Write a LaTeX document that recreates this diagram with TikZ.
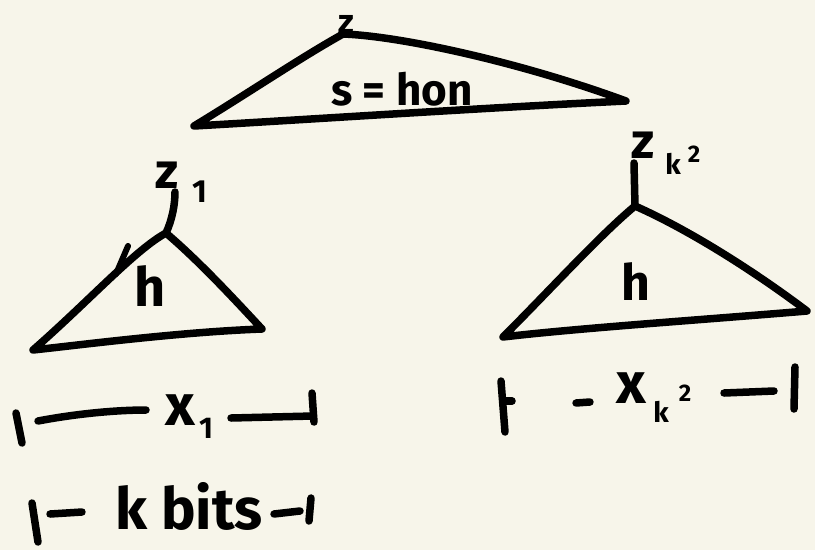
\documentclass[tikz,border=0pt]{standalone}
\usepackage{fontspec}
\setmainfont{Fira Sans}
\definecolor{paper}{HTML}{F7F5EA}
\newcommand{\fs}[1]{\fontsize{#1}{#1}\selectfont}
\begin{document}
\begin{tikzpicture}[x=1pt,y=-1pt,line cap=round,line join=round,
  pen/.style={line width=7.5pt,black},
  thinpen/.style={line width=6pt,black},
  lbl/.style={font=\fs{44}\bfseries,inner sep=0pt,anchor=center}]
\fill[paper] (0,0) rectangle (815,550);
\useasboundingbox (0,0) rectangle (815,550);

% ---- top triangle
\coordinate (tA) at (343,34);
\coordinate (tL) at (194,126);
\coordinate (tR) at (626,101);
\draw[pen] (tA) .. controls (400,36) and (520,62) .. (tR)
  .. controls (480,108) and (300,120) .. (tL)
  .. controls (250,92) and (300,58) .. (tA);
\node[lbl,font=\fs{34}\bfseries] (tz) at (346,24) {z};
\node[lbl] (ts) at (402,89) {s = hon};

% ---- left triangle
\coordinate (lA) at (166,233);
\coordinate (lL) at (33,350);
\coordinate (lR) at (262,329);
\coordinate (lS) at (175,192);
\draw[pen] (lA) .. controls (200,262) and (235,300) .. (lR)
  .. controls (180,332) and (80,345) .. (lL)
  .. controls (90,300) and (135,250) .. (lA);
\draw[pen] (lA) .. controls (172,220) and (175,205) .. (lS);
\coordinate (lm1) at (128,246);
\coordinate (lm2) at (116,274);
\draw[thinpen] (lm1) -- (lm2);
\node[lbl,font=\fs{50}\bfseries] (lz) at (167,175) {z};
\node[lbl,font=\fs{32}\bfseries] (l1) at (200,192) {1};
\node[lbl,font=\fs{54}\bfseries] (lh) at (150,286) {h};

% ---- right triangle
\coordinate (rA) at (635,206);
\coordinate (rL) at (503,337);
\coordinate (rR) at (807,311);
\coordinate (rS) at (634,163);
\draw[pen] (rA) .. controls (685,228) and (750,268) .. (rR)
  .. controls (700,320) and (580,328) .. (rL)
  .. controls (550,290) and (600,235) .. (rA);
\draw[pen] (rA) -- (rS);
\node[lbl,font=\fs{50}\bfseries] (rz) at (643,145) {z};
\node[lbl,font=\fs{28}\bfseries] (rk) at (673,164) {k};
\node[lbl,font=\fs{24}\bfseries] (r2) at (694,154) {2};
\node[lbl,font=\fs{50}\bfseries] (rh) at (636,282) {h};

% ---- bottom-left brace x1
\coordinate (a1) at (16,413);
\coordinate (a2) at (22,443);
\draw[pen] (a1) -- (a2);
\node[lbl,font=\fs{58}\bfseries] (x1) at (180,410) {x};
\node[lbl,font=\fs{30}\bfseries] (x1s) at (206,428) {1};
\coordinate (a3) at (38,421);
\coordinate (a4) at (146,410);
\draw[pen] (a3) .. controls (80,413) and (120,410) .. (a4);
\coordinate (a5) at (231,418);
\coordinate (a6) at (313,416);
\draw[pen] (a5) -- (a6);
\coordinate (a7) at (312,393);
\coordinate (a8) at (314,422);
\draw[pen] (a7) -- (a8);

% ---- bottom-left brace k bits
\coordinate (b1) at (32,503);
\coordinate (b2) at (38,542);
\draw[pen] (b1) -- (b2);
\coordinate (b3) at (50,514);
\coordinate (b4) at (82,512);
\draw[pen] (b3) -- (b4);
\node[lbl,font=\fs{58}\bfseries] (kb) at (189,506) {k bits};
\coordinate (b5) at (274,514);
\coordinate (b6) at (300,511);
\draw[pen] (b5) -- (b6);
\coordinate (b7) at (311,498);
\coordinate (b8) at (309,521);
\draw[pen] (b7) -- (b8);

% ---- bottom-right brace x_{k^2}
\coordinate (c1) at (501,381);
\coordinate (c2) at (505,432);
\draw[pen] (c1) -- (c2);
\coordinate (c3) at (503,401);
\coordinate (c4) at (512,401);
\draw[pen] (c3) -- (c4);
\coordinate (c5) at (576,403);
\coordinate (c6) at (590,402);
\draw[pen] (c5) -- (c6);
\node[lbl,font=\fs{58}\bfseries] (xk) at (631,388) {x};
\node[lbl,font=\fs{28}\bfseries] (xkk) at (661,412) {k};
\node[lbl,font=\fs{24}\bfseries] (xk2) at (685,393) {2};
\coordinate (c7) at (724,393);
\coordinate (c8) at (774,391);
\draw[pen] (c7) -- (c8);
\coordinate (c9) at (795,367);
\coordinate (c10) at (794,409);
\draw[pen] (c9) -- (c10);
\end{tikzpicture}
\end{document}
